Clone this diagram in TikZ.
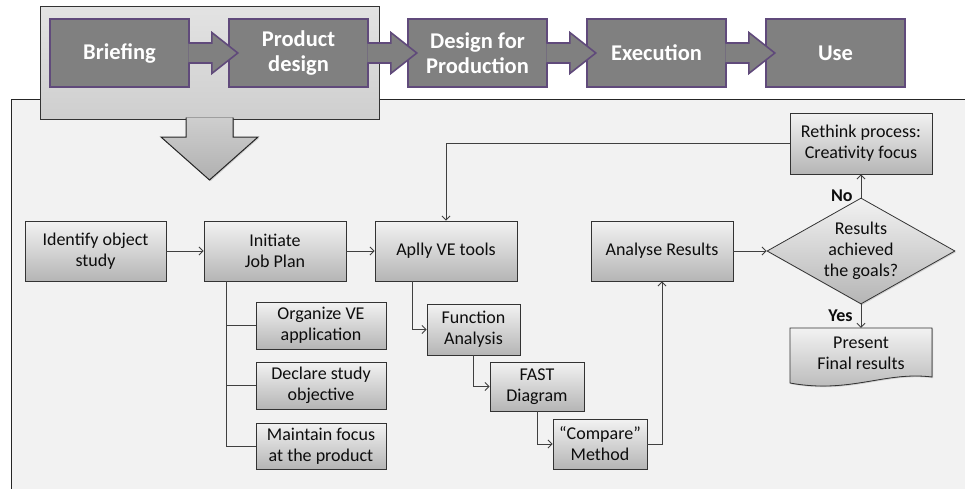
\documentclass[tikz,border=0pt]{standalone}
\usepackage{fontspec}
\setmainfont{Carlito}
\usetikzlibrary{shapes.geometric,shadows,arrows.meta}
\definecolor{purp}{HTML}{604A7B}

\begin{document}
\begin{tikzpicture}[x=1pt,y=-1pt,
  line/.style={draw=black!75,line width=0.9pt},
  arr/.style={line,-{Straight Barb[length=4pt,width=8pt]}},
  shad/.style={drop shadow={shadow xshift=1pt,shadow yshift=-1.2pt,opacity=.3}},
  box/.style={draw=black!80,line width=0.8pt,top color=black!5,bottom color=black!29,
    font=\fontsize{18}{21}\selectfont,text=black!95,align=center,inner sep=2pt,shad},
  txt/.style={font=\fontsize{18}{21}\selectfont,text=black!95,align=center,inner sep=0pt},
  lbl/.style={font=\fontsize{18}{21}\selectfont\bfseries,text=black!95,inner sep=1pt},
  stage/.style={draw=purp,line width=1.6pt,fill=black!50,text=white,align=center,
    font=\fontsize{22.5}{25}\selectfont\bfseries,minimum width=139,minimum height=68},
  stagearrow/.style={draw=purp,line width=1.6pt,fill=black!50,line join=miter}]
\useasboundingbox (0,0) rectangle (965,488);
\fill[white] (0,0) rectangle (965,488);
\clip (0,0) rectangle (965,488);
\filldraw[fill=black!5,draw=black!85,line width=1pt,shad] (11,99) rectangle (985,505);
\filldraw[top color=black!11,bottom color=black!19,draw=black!80,line width=1pt,shad] (40,6) rectangle (379,119);
\filldraw[top color=black!19,bottom color=black!31,draw=black!85,line width=1pt,line join=miter,shad]
  (186,117.5) -- (186,137) -- (161,137) -- (209.5,180) -- (258,137) -- (233,137) -- (233,117.5);
\foreach \n/\t [count=\i from 0] in {brief/Briefing,prod/{Product\\design},dfp/{Design for\\Production},exec/Execution,use/Use}
  \node[stage] (\n) at (119.5+179*\i,53) {\t};
\foreach \a in {brief,prod,dfp,exec}
  \filldraw[stagearrow] ([shift={(-1.5,-10)}]\a.east) -- ++(23.5,0) -- ++(0,-10.5) -- ++(26,20.5)
    -- ++(-26,20.5) -- ++(0,-10.5) -- ++(-23.5,0);

\node[box,minimum width=141,minimum height=60] (ident) at (95.5,251) {Identify object\\study};
\node[box,minimum width=142,minimum height=60] (init) at (275,251) {Initiate\\Job Plan};
\node[box,minimum width=142,minimum height=60] (aplly) at (446,251) {Aplly VE tools};
\node[box,minimum width=142,minimum height=60] (anal) at (662,251) {Analyse Results};
\node[box,diamond,aspect=1.77,minimum width=188,minimum height=106,inner sep=-8pt] (goal) at (861,251) {Results\\achieved\\the goals?};
\node[box,minimum width=142,minimum height=61] (rethink) at (861,143.5) {Rethink process:\\Creativity focus};
\filldraw[draw=black!80,line width=0.8pt,top color=black!5,bottom color=black!29,shad]
  (790,328) -- (932,328) -- (932,377) .. controls (885,371) and (850,394) .. (790,383) -- cycle;
\node[txt,minimum width=142,minimum height=50] (pres) at (861,353) {Present\\Final results};
\node[box,minimum width=130,minimum height=47] (org) at (321,325.5) {Organize VE\\application};
\node[box,minimum width=130,minimum height=47] (decl) at (321,385.5) {Declare study\\objective};
\node[box,minimum width=130,minimum height=46] (maint) at (321,446) {Maintain focus\\at the product};
\node[box,minimum width=93,minimum height=51] (func) at (473.5,329.5) {Function\\Analysis};
\node[box,minimum width=94,minimum height=49] (fast) at (537,386.5) {FAST\\Diagram};
\node[box,minimum width=94,minimum height=50] (comp) at (600,444) {``Compare''\\Method};

\draw[arr] (ident) -- (init);
\draw[arr] (init) -- (aplly);
\draw[arr] (anal) -- (goal);
\draw[arr] (goal) -- node[lbl,pos=.1,left=7pt] {No} (rethink);
\draw[arr] (goal) -- node[lbl,left=7pt] {Yes} (pres);
\draw[arr] (rethink) -| (aplly);
\foreach \b in {org,decl,maint}
  \draw[line] ([xshift=23pt]init.south west) |- (\b);
\draw[arr] ([xshift=38pt]aplly.south west) |- (func);
\draw[arr] (func) |- (fast);
\draw[arr] (fast) |- (comp);
\draw[arr] (comp) -| (anal);
\end{tikzpicture}
\end{document}
